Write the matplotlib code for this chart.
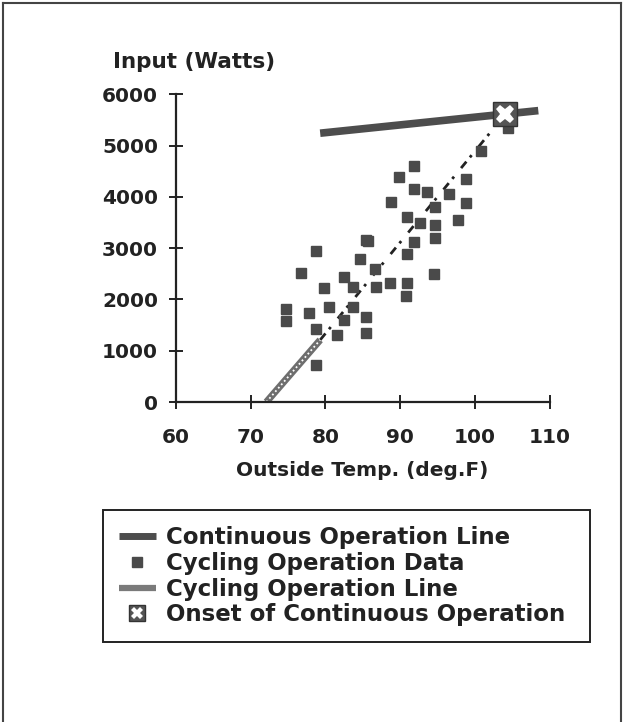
import matplotlib
matplotlib.use("Agg")
import matplotlib.pyplot as plt
from matplotlib.lines import Line2D
from matplotlib.legend_handler import HandlerTuple

# ---------------- data ----------------
data_temp = [78.8, 76.8, 84.6, 85.5, 82.5, 83.7, 79.8, 74.7, 74.7, 77.8, 80.5, 83.7,
             82.5, 78.8, 81.5, 85.5, 85.5, 78.7,
             104.5, 100.8, 91.9, 89.9, 98.8, 91.9, 93.6, 96.6, 88.8, 98.8, 94.7,
             90.9, 92.7, 94.7, 97.7, 94.7, 91.9, 85.7, 90.9, 86.6, 94.5, 90.9,
             90.8, 86.8, 88.6]
data_watts = [2950, 2510, 2780, 3160, 2440, 2235, 2215, 1810, 1585, 1740, 1860, 1860,
              1600, 1415, 1305, 1650, 1340, 720,
              5335, 4900, 4600, 4380, 4340, 4145, 4100, 4050, 3905, 3885, 3795,
              3600, 3480, 3450, 3550, 3190, 3125, 3145, 2885, 2585, 2495, 2325,
              2065, 2245, 2310]

cont_temp = [79.3, 108.5]
cont_watts = [5240, 5680]

cyc_temp = [72.1, 79.3, 104.1]
cyc_watts = [0, 1210, 5614]

onset_temp = [104.1]
onset_watts = [5614]

x_ticks = [60, 70, 80, 90, 100, 110]
y_ticks = [0, 1000, 2000, 3000, 4000, 5000, 6000]

labels = ["Continuous Operation Line", "Cycling Operation Data",
          "Cycling Operation Line", "Onset of Continuous Operation"]

# ---------------- figure ----------------
W, H = 626, 722
fig = plt.figure(figsize=(W / 100, H / 100), dpi=100)
fig.patch.set_facecolor("white")

def fx(px):
    return px / W

def fy(py):
    return 1 - py / H

ax = fig.add_axes([fx(176), fy(402), fx(549.5) - fx(176), fy(94.2) - fy(402)])
ax.set_xlim(60, 110)
ax.set_ylim(0, 6000)
for s in ["top", "right"]:
    ax.spines[s].set_visible(False)
for s in ["left", "bottom"]:
    ax.spines[s].set_linewidth(1.6)
    ax.spines[s].set_color("#222222")
ax.patch.set_alpha(0)

font = dict(family="DejaVu Sans", weight="bold")
ax.set_xticks(x_ticks)
ax.set_yticks(y_ticks)
ax.set_xticklabels([str(v) for v in x_ticks], fontsize=14.5, **font, color="#222222")
ax.set_yticklabels([str(v) for v in y_ticks], fontsize=14.5, **font, color="#222222")
ax.tick_params(axis="both", direction="inout", length=10, width=1.4, color="#222222")
ax.tick_params(axis="x", pad=14)
ax.tick_params(axis="y", pad=8)

# continuous operation line
ax.plot(cont_temp, cont_watts, color="#4d4d4d", lw=5.5, solid_capstyle="butt", zorder=3)
# cycling line: lower solid hatched part, upper fragmented dashes
ax.plot(cyc_temp[:2], cyc_watts[:2], color="#6e6e6e", lw=5, solid_capstyle="butt", zorder=2)
ax.plot(cyc_temp[:2], cyc_watts[:2], color="white", lw=1.3, ls=(0, (1, 1.5)), zorder=2.1)
ax.plot(cyc_temp[1:], cyc_watts[1:], color="#222222", lw=2.0, ls=(0, (3, 2, 1, 4)), zorder=2)

# cycling data
ax.plot(data_temp, data_watts, ls="none", marker="s", ms=7,
        mfc="#4a4a4a", mec="#4a4a4a", zorder=4)

# onset marker
ax.plot(onset_temp, onset_watts, ls="none", marker="s", ms=17,
        mfc="#555555", mec="#333333", mew=1, zorder=5)
ax.plot(onset_temp, onset_watts, ls="none", marker="X", ms=13,
        mfc="white", mec="white", mew=0, zorder=6)

# titles
fig.text(fx(113), fy(62), "Input (Watts)", fontsize=15.5, ha="left", va="center",
         color="#222222", **font)
fig.text(fx(362), fy(470), "Outside Temp. (deg.F)", fontsize=14.5, ha="center",
         va="center", color="#222222", **font)

# legend proxies (style only)
leg_cont = Line2D([], [], color="#4d4d4d", lw=5, solid_capstyle="butt")
leg_sc = Line2D([], [], ls="none", marker="s", ms=6.5, mfc="#4a4a4a", mec="#4a4a4a")
leg_cyc = Line2D([], [], color="#7a7a7a", lw=4.5, solid_capstyle="butt")
leg_on_box = Line2D([], [], ls="none", marker="s", ms=11, mfc="#555555", mec="#333333")
leg_on_x = Line2D([], [], ls="none", marker="X", ms=8, mfc="white", mec="white", mew=0)

leg = fig.legend([leg_cont, leg_sc, leg_cyc, (leg_on_box, leg_on_x)], labels,
                 handler_map={tuple: HandlerTuple(ndivide=1)},
                 loc="upper left",
                 bbox_to_anchor=(fx(103), fy(640), fx(590) - fx(103), fy(510) - fy(640)),
                 mode="expand", frameon=True, fancybox=False, edgecolor="#222222",
                 framealpha=1, borderpad=0.7, labelspacing=0.12, handlelength=1.6,
                 handletextpad=0.45, borderaxespad=0,
                 prop=dict(family="DejaVu Sans", weight="bold", size=16.5))
leg.get_frame().set_linewidth(1.4)
for t in leg.get_texts():
    t.set_color("#222222")

# outer frame (left, top, right)
fig.add_artist(Line2D([fx(3), fx(3)], [fy(3), fy(722)], color="#444444", lw=1.5))
fig.add_artist(Line2D([fx(3), fx(621)], [fy(3), fy(3)], color="#444444", lw=1.5))
fig.add_artist(Line2D([fx(621), fx(621)], [fy(3), fy(722)], color="#444444", lw=1.5))

fig.savefig("out.png", dpi=100)
